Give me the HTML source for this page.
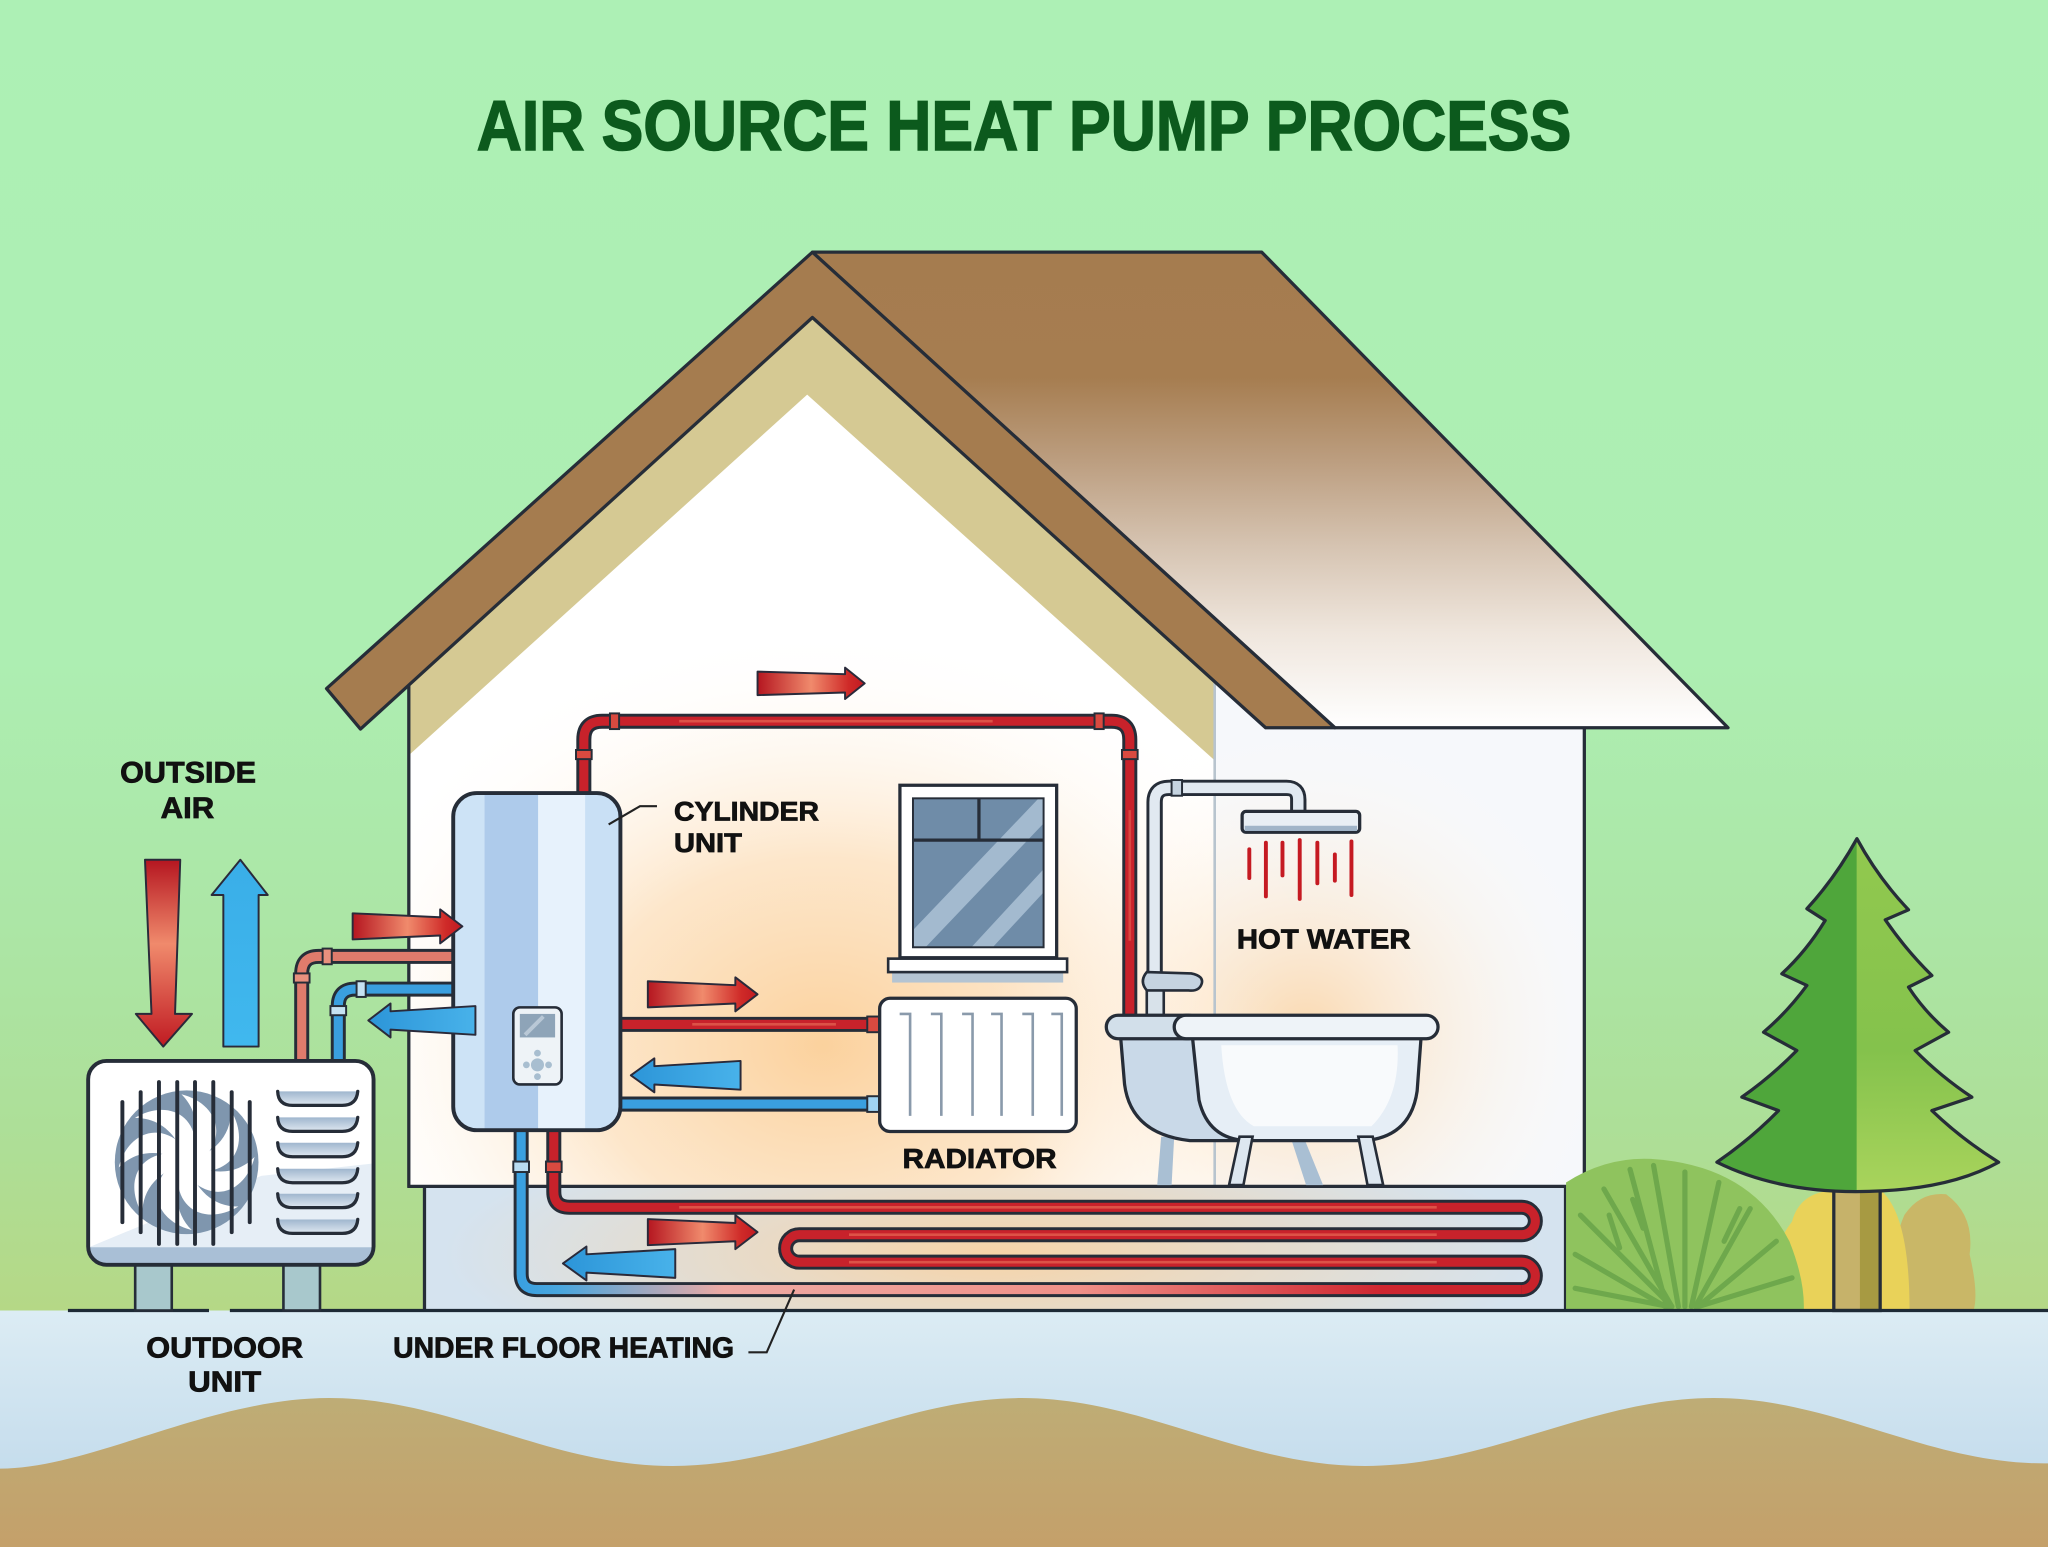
<!DOCTYPE html>
<html><head><meta charset="utf-8"><style>html,body{margin:0;padding:0;background:#adf0b5;overflow:hidden}svg{display:block}text{font-family:"Liberation Sans",Arial,sans-serif;font-weight:bold}</style></head>
<body>
<svg xmlns="http://www.w3.org/2000/svg" width="2048" height="1547" viewBox="0 0 1568 1184" preserveAspectRatio="none">
<defs>
<linearGradient id="bg" gradientUnits="userSpaceOnUse" x1="0" y1="0" x2="0" y2="1003"><stop offset="0" stop-color="#adf0b5"/><stop offset="0.5" stop-color="#adeeb2"/><stop offset="0.7" stop-color="#ace6a6"/><stop offset="0.86" stop-color="#addf98"/><stop offset="1" stop-color="#b5d886"/></linearGradient>
<linearGradient id="gb" gradientUnits="userSpaceOnUse" x1="0" y1="1003" x2="0" y2="1130"><stop offset="0" stop-color="#dcecf4"/><stop offset="1" stop-color="#c4dcec"/></linearGradient>
<linearGradient id="soil" gradientUnits="userSpaceOnUse" x1="0" y1="1068" x2="0" y2="1184"><stop offset="0" stop-color="#bead76"/><stop offset="1" stop-color="#c4a06a"/></linearGradient>
<linearGradient id="roofR" gradientUnits="userSpaceOnUse" x1="0" y1="193" x2="0" y2="557"><stop offset="0" stop-color="#a57c4f"/><stop offset="0.264" stop-color="#a67d50"/><stop offset="0.44" stop-color="#bc9e80"/><stop offset="0.62" stop-color="#d6c4b2"/><stop offset="0.8" stop-color="#efe6dd"/><stop offset="1" stop-color="#ffffff"/></linearGradient>
<radialGradient id="glowA" gradientUnits="userSpaceOnUse" cx="630" cy="800" r="400" gradientTransform="translate(0,160) scale(1,0.8)"><stop offset="0" stop-color="#fbcf98" stop-opacity="0.95"/><stop offset="0.45" stop-color="#fcdcb4" stop-opacity="0.7"/><stop offset="1" stop-color="#ffffff" stop-opacity="0"/></radialGradient>
<radialGradient id="glowB" gradientUnits="userSpaceOnUse" cx="1000" cy="790" r="240"><stop offset="0" stop-color="#fbd3a2" stop-opacity="0.85"/><stop offset="1" stop-color="#ffffff" stop-opacity="0"/></radialGradient>
<radialGradient id="glowF" gradientUnits="userSpaceOnUse" cx="760" cy="960" r="420" gradientTransform="translate(0,720) scale(1,0.25)"><stop offset="0" stop-color="#f9d3a4" stop-opacity="0.95"/><stop offset="1" stop-color="#f9d3a4" stop-opacity="0"/></radialGradient>
<linearGradient id="redH" x1="0" y1="0" x2="1" y2="0"><stop offset="0" stop-color="#b51620"/><stop offset="0.5" stop-color="#f08a6c"/><stop offset="0.85" stop-color="#cf2a28"/><stop offset="1" stop-color="#c01a22"/></linearGradient>
<linearGradient id="redV" x1="0" y1="0" x2="0" y2="1"><stop offset="0" stop-color="#b51620"/><stop offset="0.45" stop-color="#f08a6c"/><stop offset="1" stop-color="#c01a22"/></linearGradient>
<linearGradient id="blueH" x1="0" y1="0" x2="1" y2="0"><stop offset="0" stop-color="#2c95d8"/><stop offset="1" stop-color="#48b2ea"/></linearGradient>
<linearGradient id="blueV" x1="0" y1="0" x2="0" y2="1"><stop offset="0" stop-color="#3aaee8"/><stop offset="1" stop-color="#40b8ee"/></linearGradient>
<linearGradient id="uf" gradientUnits="userSpaceOnUse" x1="399" y1="0" x2="1175" y2="0"><stop offset="0" stop-color="#3aa0e0"/><stop offset="0.04" stop-color="#4aa6de"/><stop offset="0.2" stop-color="#eeaaa4"/><stop offset="0.55" stop-color="#f09088"/><stop offset="0.85" stop-color="#cf2630"/><stop offset="1" stop-color="#c8222b"/></linearGradient>
<linearGradient id="treeR" x1="0" y1="0" x2="0" y2="1"><stop offset="0" stop-color="#92c94f"/><stop offset="0.6" stop-color="#84c24c"/><stop offset="1" stop-color="#a9d45c"/></linearGradient>
<linearGradient id="louv" x1="0" y1="0" x2="0" y2="1"><stop offset="0" stop-color="#9fb6ce"/><stop offset="1" stop-color="#dfe8f1"/></linearGradient>
<clipPath id="wallClip"><polygon points="313,524 622,243 930,522 930,520 1213,520 1213,908 313,908"/></clipPath>
<clipPath id="cylClip"><rect x="347" y="607" width="128" height="258" rx="18"/></clipPath>
<clipPath id="glassClip"><rect x="699" y="611" width="100" height="114"/></clipPath>
<clipPath id="ouClip"><rect x="67.5" y="812" width="218.5" height="156" rx="14"/></clipPath>
<clipPath id="treeRClip"><rect x="1421.5" y="600" width="150" height="330"/></clipPath>
</defs>

<!-- background -->
<rect x="0" y="0" width="1568" height="1003" fill="url(#bg)"/>
<rect x="0" y="1003" width="1568" height="181" fill="url(#gb)"/>
<path d="M0,1124 C70,1124 160,1070 252,1070 C345,1070 420,1122 515,1122 C610,1122 690,1070 782,1070 C875,1070 950,1122 1045,1122 C1140,1122 1220,1070 1312,1070 C1405,1070 1475,1121 1568,1120 L1568,1184 L0,1184 Z" fill="url(#soil)"/>

<!-- walls -->
<rect x="930" y="520" width="283" height="388" fill="#f6f8fb"/>
<polygon points="313,524 622,243 930,522 930,908 313,908" fill="#ffffff"/>
<g clip-path="url(#wallClip)">
<rect x="313" y="240" width="900" height="668" fill="url(#glowA)"/>
<rect x="313" y="240" width="900" height="668" fill="url(#glowB)"/>
</g>
<polygon points="622,243 313,524 313,578 618,302 930,582 930,522" fill="#d5c993"/>
<line x1="930" y1="522" x2="930" y2="908" stroke="#b8c4ce" stroke-width="2"/>

<!-- roof -->
<polygon points="622,193 966,193 1323,557 1022,557" fill="url(#roofR)" stroke="#262d38" stroke-width="2.5" stroke-linejoin="round"/>
<polygon points="622,193 1022,557 969,557 622,243 276,558 250,527" fill="#a57c4f" stroke="#262d38" stroke-width="2.5" stroke-linejoin="round"/>

<!-- wall outlines -->
<line x1="313" y1="524" x2="313" y2="909" stroke="#262d38" stroke-width="2.5"/>
<line x1="1213" y1="557" x2="1213" y2="909" stroke="#262d38" stroke-width="2.5"/>

<!-- foundation -->
<rect x="325" y="908" width="873.6" height="95" fill="#d5e3ef"/>
<rect x="325" y="908" width="873.6" height="95" fill="url(#glowF)"/>
<line x1="325" y1="908" x2="325" y2="1003" stroke="#262d38" stroke-width="2.5"/>
<line x1="1198.6" y1="908" x2="1198.6" y2="1003" stroke="#262d38" stroke-width="2.5"/>
<line x1="312" y1="908" x2="1214" y2="908" stroke="#262d38" stroke-width="2.5"/>

<!-- bushes -->
<path d="M1452,1003 Q1445,960 1458,930 Q1470,912 1490,914 Q1512,930 1508,960 Q1515,990 1511,1003 Z" fill="#c9b767"/>
<path d="M1358,1003 Q1352,960 1372,935 Q1378,912 1405,911 L1440,911 Q1462,930 1462,1003 Z" fill="#e9d259"/>
<path d="M1199,1003 L1199,905 Q1230,885 1265,887 Q1340,892 1370,950 Q1382,980 1381,1003 Z" fill="#8fc35e"/>
<g stroke="#66a248" stroke-width="4" stroke-linecap="round" opacity="0.8" fill="none">
<path d="M1280,1000 L1210,930"/><path d="M1280,1000 L1228,910"/><path d="M1276,1000 L1248,895"/><path d="M1285,1000 L1266,892"/><path d="M1290,1000 L1290,897"/><path d="M1295,1000 L1316,905"/><path d="M1298,1000 L1340,925"/><path d="M1300,1000 L1360,950"/><path d="M1300,1000 L1372,978"/><path d="M1275,1000 L1206,960"/><path d="M1278,1000 L1206,986"/>
<path d="M1240,955 L1232,930"/><path d="M1320,950 L1332,925"/><path d="M1258,940 L1250,918"/>
</g>

<!-- tree -->
<rect x="1404" y="908" width="35.5" height="95" fill="#c6b26a"/>
<rect x="1424" y="908" width="15.5" height="95" fill="#a79a42"/>
<rect x="1404" y="908" width="35.5" height="95" fill="none" stroke="#262d38" stroke-width="2.5"/>
<path d="M1421.7,641.9 Q1405,672 1383.4,695.5 L1397.4,704.5 Q1383,728 1364.2,745.3 L1383.4,754.2 Q1368,775 1350.2,790 L1375.7,804 Q1356,824 1333.6,839.7 L1361.7,850 Q1340,872 1314.5,889.5 Q1360,912 1421,912 Q1490,912 1530.2,889.5 Q1502,872 1479.1,850 L1509.7,839.7 Q1486,824 1466.3,804 L1491.9,790 Q1474,775 1461.2,755.5 L1479.1,746.6 Q1460,728 1443.4,704 L1461.2,696.3 Q1438,672 1421.7,641.9 Z" fill="#4fa63b"/>
<path clip-path="url(#treeRClip)" d="M1421.7,641.9 Q1405,672 1383.4,695.5 L1397.4,704.5 Q1383,728 1364.2,745.3 L1383.4,754.2 Q1368,775 1350.2,790 L1375.7,804 Q1356,824 1333.6,839.7 L1361.7,850 Q1340,872 1314.5,889.5 Q1360,912 1421,912 Q1490,912 1530.2,889.5 Q1502,872 1479.1,850 L1509.7,839.7 Q1486,824 1466.3,804 L1491.9,790 Q1474,775 1461.2,755.5 L1479.1,746.6 Q1460,728 1443.4,704 L1461.2,696.3 Q1438,672 1421.7,641.9 Z" fill="url(#treeR)"/>
<path d="M1421.7,641.9 Q1405,672 1383.4,695.5 L1397.4,704.5 Q1383,728 1364.2,745.3 L1383.4,754.2 Q1368,775 1350.2,790 L1375.7,804 Q1356,824 1333.6,839.7 L1361.7,850 Q1340,872 1314.5,889.5 Q1360,912 1421,912 Q1490,912 1530.2,889.5 Q1502,872 1479.1,850 L1509.7,839.7 Q1486,824 1466.3,804 L1491.9,790 Q1474,775 1461.2,755.5 L1479.1,746.6 Q1460,728 1443.4,704 L1461.2,696.3 Q1438,672 1421.7,641.9 Z" fill="none" stroke="#262d38" stroke-width="2.5" stroke-linejoin="round"/>

<!-- ground line -->
<path d="M52,1003 L160,1003 M176,1003 L1568,1003" stroke="#1e2a36" stroke-width="2.5"/>

<!-- window -->
<rect x="689" y="601" width="120" height="132" fill="#ffffff" stroke="#262d38" stroke-width="2.5"/>
<rect x="699" y="611" width="100" height="114" fill="#6f8ca8"/>
<g clip-path="url(#glassClip)">
<line x1="688" y1="735" x2="812" y2="605" stroke="#a3bacf" stroke-width="16"/>
<line x1="738" y1="740" x2="812" y2="660" stroke="#a3bacf" stroke-width="12"/>
</g>
<rect x="699" y="611" width="100" height="114" fill="none" stroke="#262d38" stroke-width="1.5"/>
<line x1="749.5" y1="611" x2="749.5" y2="643" stroke="#262d38" stroke-width="2.5"/>
<line x1="699" y1="643" x2="799" y2="643" stroke="#262d38" stroke-width="2.5"/>
<rect x="683" y="744" width="131" height="8" fill="#b4c4d2"/>
<rect x="680" y="733.7" width="137" height="10.3" fill="#ffffff" stroke="#262d38" stroke-width="2"/>

<!-- underfloor pipes -->
<path d="M424,865 L424,912 Q424,924 436,924 L1165,924 A10.5,10.5 0 0 1 1165,945 L612,945 A10.5,10.5 0 0 0 612,966 L1165,966 A10.5,10.5 0 0 1 1165,987 L411,987 Q399,987 399,975 L399,865" fill="none" stroke="#262d38" stroke-width="11.5" stroke-linejoin="round"/>
<path d="M424,865 L424,912 Q424,924 436,924 L1165,924 A10.5,10.5 0 0 1 1165,945 L612,945 A10.5,10.5 0 0 0 612,966 L1165,966 A10.5,10.5 0 0 1 1165,987" fill="none" stroke="#c8222b" stroke-width="7"/>
<path d="M1165,987 L411,987 Q399,987 399,975 L399,865" fill="none" stroke="url(#uf)" stroke-width="7"/>
<path d="M520,924 L1100,924 M650,945 L1100,945 M650,966 L1100,966" fill="none" stroke="#ee7a5e" stroke-width="2" opacity="0.55"/>
<rect x="393" y="889" width="12" height="8" fill="#b8dcf2" stroke="#262d38" stroke-width="1.5"/>
<rect x="418" y="889" width="12" height="8" fill="#d94a40" stroke="#262d38" stroke-width="1.5"/>

<!-- top red loop -->
<path d="M447,607 L447,566 Q447,552 461,552 L851,552 Q865,552 865,566 L865,778" fill="none" stroke="#262d38" stroke-width="11.5" stroke-linejoin="round"/>
<path d="M447,607 L447,566 Q447,552 461,552 L851,552 Q865,552 865,566 L865,778" fill="none" stroke="#c8222b" stroke-width="7"/>
<path d="M520,552 L760,552" stroke="#ee7a5e" stroke-width="2" opacity="0.55"/>
<path d="M865,620 L865,720" stroke="#ee7a5e" stroke-width="2" opacity="0.45"/>
<rect x="441" y="574" width="12" height="7" fill="#d94a40" stroke="#262d38" stroke-width="1.5"/>
<rect x="467" y="546" width="7" height="12" fill="#d94a40" stroke="#262d38" stroke-width="1.5"/>
<rect x="838" y="546" width="7" height="12" fill="#d94a40" stroke="#262d38" stroke-width="1.5"/>
<rect x="859" y="574" width="12" height="7" fill="#d94a40" stroke="#262d38" stroke-width="1.5"/>

<!-- radiator pipes -->
<path d="M470,784 L673,784" stroke="#262d38" stroke-width="11.5"/>
<path d="M470,784 L673,784" stroke="#c8222b" stroke-width="7"/>
<path d="M530,784 L640,784" stroke="#ee7a5e" stroke-width="2" opacity="0.55"/>
<path d="M470,845 L673,845" stroke="#262d38" stroke-width="11.5"/>
<path d="M470,845 L673,845" stroke="#3a9fdf" stroke-width="7"/>
<rect x="664" y="778" width="9" height="12" fill="#d94a40" stroke="#262d38" stroke-width="1.5"/>
<rect x="664" y="839" width="9" height="12" fill="#9fd2f2" stroke="#262d38" stroke-width="1.5"/>

<!-- radiator -->
<rect x="673.5" y="764" width="150.5" height="102" rx="8" fill="#ffffff" stroke="#262d38" stroke-width="2.5"/>
<g stroke="#8a9aab" stroke-width="2" fill="none">
<path d="M688.8,776 L696.8,776 L696.8,854"/><path d="M712.7,776 L720.7,776 L720.7,854"/><path d="M736.6,776 L744.6,776 L744.6,854"/><path d="M758.8,776 L766.8,776 L766.8,854"/><path d="M782.7,776 L790.7,776 L790.7,854"/><path d="M804.9,776 L812.9,776 L812.9,854"/>
</g>

<!-- outdoor pipes -->
<path d="M231,815 L231,745 Q231,732 244,732 L350,732" fill="none" stroke="#262d38" stroke-width="11.5"/>
<path d="M231,815 L231,745 Q231,732 244,732 L350,732" fill="none" stroke="#df7b6c" stroke-width="7"/>
<path d="M259,815 L259,770 Q259,757 272,757 L350,757" fill="none" stroke="#262d38" stroke-width="11.5"/>
<path d="M259,815 L259,770 Q259,757 272,757 L350,757" fill="none" stroke="#3a9fdf" stroke-width="7"/>
<rect x="225" y="745" width="12" height="7" fill="#e8907e" stroke="#262d38" stroke-width="1.5"/>
<rect x="247" y="726" width="7" height="12" fill="#e8907e" stroke="#262d38" stroke-width="1.5"/>
<rect x="253" y="770" width="12" height="7" fill="#c5e2f2" stroke="#262d38" stroke-width="1.5"/>
<rect x="273" y="751" width="7" height="12" fill="#c5e2f2" stroke="#262d38" stroke-width="1.5"/>

<!-- cylinder -->
<rect x="347" y="607" width="128" height="258" rx="18" fill="#c9e0f5"/>
<g clip-path="url(#cylClip)">
<rect x="347" y="607" width="24" height="258" fill="#cde3f6"/>
<rect x="371" y="607" width="41" height="258" fill="#aecbeb"/>
<rect x="412" y="607" width="36" height="258" fill="#e7f2fc"/>
</g>
<rect x="347" y="607" width="128" height="258" rx="18" fill="none" stroke="#262d38" stroke-width="3"/>
<rect x="393" y="771" width="37" height="59" rx="5" fill="#eef3f7" stroke="#262d38" stroke-width="2"/>
<rect x="398" y="776" width="27" height="18" fill="#8ea4b8"/>
<line x1="402" y1="792" x2="416" y2="778" stroke="#b9c8d6" stroke-width="3"/>
<circle cx="411.5" cy="815" r="5" fill="#a8bed0"/>
<circle cx="403" cy="815" r="2.6" fill="#a8bed0"/>
<circle cx="420" cy="815" r="2.6" fill="#a8bed0"/>
<circle cx="411.5" cy="806" r="2.6" fill="#a8bed0"/>
<circle cx="411.5" cy="824" r="2.6" fill="#a8bed0"/>
<polyline points="503,617 490,617 466,631" fill="none" stroke="#222" stroke-width="1.6"/>

<!-- shower -->
<path d="M884,778 L884,614 Q884,603 895,603 L985,603 Q994,603 994,612 L994,622" fill="none" stroke="#262d38" stroke-width="12.5" stroke-linejoin="round"/>
<path d="M884,778 L884,614 Q884,603 895,603 L985,603 Q994,603 994,612 L994,622" fill="none" stroke="#e1e9f1" stroke-width="8"/>
<rect x="897" y="597" width="8" height="12" fill="#c5d3e0" stroke="#262d38" stroke-width="1.5"/>
<rect x="951" y="621" width="90" height="16" rx="3" fill="#e8eef4" stroke="#262d38" stroke-width="2.5"/>
<rect x="953" y="632" width="86" height="4" fill="#a0b4c8"/>
<g stroke="#c51a22" stroke-width="3" stroke-linecap="round">
<line x1="956.5" y1="650" x2="956.5" y2="672"/><line x1="969.2" y1="645" x2="969.2" y2="686"/><line x1="981.9" y1="645" x2="981.9" y2="670"/><line x1="995.1" y1="643" x2="995.1" y2="688"/><line x1="1008.6" y1="645" x2="1008.6" y2="676"/><line x1="1022" y1="654" x2="1022" y2="674"/><line x1="1034.7" y1="644" x2="1034.7" y2="685"/>
</g>
<rect x="878" y="757" width="13" height="20" fill="#d8e2ea" stroke="#262d38" stroke-width="2"/>
<path d="M878,744 L912,745 Q922,747 920,753 Q918,759 910,758 L878,758 Q872,751 878,744 Z" fill="#c5d3e0" stroke="#262d38" stroke-width="2"/>

<!-- bath -->
<polygon points="889,870 899,870 897,907 886,907" fill="#a9bfd3"/>
<polygon points="988,870 998,870 1013,907 1000,907" fill="#a9bfd3"/>
<path d="M858,794 L861,830 Q866,868 911,873 L950,873 L950,794 Z" fill="#c9d9e8" stroke="#262d38" stroke-width="2.5" stroke-linejoin="round"/>
<path d="M913,794 L918,842 Q925,872 955,873 L1045,873 Q1080,870 1085,835 L1088,794 Z" fill="#e6eef6" stroke="#262d38" stroke-width="2.5" stroke-linejoin="round"/>
<path d="M935,800 L1070,800 Q1072,840 1050,862 L960,862 Q938,850 935,800 Z" fill="#ffffff" opacity="0.7"/>
<polygon points="949,870 959,870 952,907 941,907" fill="#dde7f0" stroke="#262d38" stroke-width="2"/>
<polygon points="1040,870 1051,870 1059,907 1047,907" fill="#dde7f0" stroke="#262d38" stroke-width="2"/>
<rect x="847" y="777" width="72" height="18" rx="9" fill="#d2dfea" stroke="#262d38" stroke-width="2.5"/>
<rect x="899" y="777" width="202" height="18" rx="9" fill="#eef3f8" stroke="#262d38" stroke-width="2.5"/>

<!-- outdoor unit -->
<rect x="103.5" y="966" width="28" height="37" fill="#a8c8cc" stroke="#262d38" stroke-width="2"/>
<rect x="217" y="966" width="28" height="37" fill="#a8c8cc" stroke="#262d38" stroke-width="2"/>
<rect x="67.5" y="812" width="218.5" height="156" rx="14" fill="#ffffff"/>
<g clip-path="url(#ouClip)">
<polygon points="67,955 200,900 290,890 290,955" fill="#e6eef6"/>
<rect x="67" y="954.6" width="220" height="14" fill="#a9bfd6"/>
</g>
<rect x="67.5" y="812" width="218.5" height="156" rx="14" fill="none" stroke="#262d38" stroke-width="3"/>
<circle cx="142.9" cy="889.5" r="55" fill="#7f96ae"/>
<g transform="translate(142.9,889.5)" fill="#ffffff">
<path d="M0,0 C10,-20 10,-38 -4,-52 C20,-46 32,-24 14,-4 Z"/>
<path d="M0,0 C10,-20 10,-38 -4,-52 C20,-46 32,-24 14,-4 Z" transform="rotate(45)"/>
<path d="M0,0 C10,-20 10,-38 -4,-52 C20,-46 32,-24 14,-4 Z" transform="rotate(90)"/>
<path d="M0,0 C10,-20 10,-38 -4,-52 C20,-46 32,-24 14,-4 Z" transform="rotate(135)"/>
<path d="M0,0 C10,-20 10,-38 -4,-52 C20,-46 32,-24 14,-4 Z" transform="rotate(180)"/>
<path d="M0,0 C10,-20 10,-38 -4,-52 C20,-46 32,-24 14,-4 Z" transform="rotate(225)"/>
<path d="M0,0 C10,-20 10,-38 -4,-52 C20,-46 32,-24 14,-4 Z" transform="rotate(270)"/>
<path d="M0,0 C10,-20 10,-38 -4,-52 C20,-46 32,-24 14,-4 Z" transform="rotate(315)"/>
<circle cx="0" cy="0" r="10"/>
</g>
<g stroke="#262d38" stroke-width="3" stroke-linecap="round">
<line x1="93.7" y1="843.5" x2="93.7" y2="935.4"/><line x1="107.7" y1="835.9" x2="107.7" y2="943"/><line x1="121.7" y1="828.2" x2="121.7" y2="952"/><line x1="135.7" y1="828.2" x2="135.7" y2="952"/><line x1="149.3" y1="828.2" x2="149.3" y2="952"/><line x1="163.3" y1="828.2" x2="163.3" y2="952"/><line x1="177.4" y1="835.9" x2="177.4" y2="943"/><line x1="191.2" y1="843.5" x2="191.2" y2="935.4"/>
</g>
<g>
<path d="M212.6,835.3 L273.9,835.3 Q273,846 262,846 L224,846 Q213,846 212.6,835.3 Z" fill="url(#louv)"/>
<path d="M212.6,855.2 L273.9,855.2 Q273,865.9 262,865.9 L224,865.9 Q213,865.9 212.6,855.2 Z" fill="url(#louv)"/>
<path d="M212.6,874.6 L273.9,874.6 Q273,885.3 262,885.3 L224,885.3 Q213,885.3 212.6,874.6 Z" fill="url(#louv)"/>
<path d="M212.6,894.5 L273.9,894.5 Q273,905.2 262,905.2 L224,905.2 Q213,905.2 212.6,894.5 Z" fill="url(#louv)"/>
<path d="M212.6,913.6 L273.9,913.6 Q273,924.3 262,924.3 L224,924.3 Q213,924.3 212.6,913.6 Z" fill="url(#louv)"/>
<path d="M212.6,933.3 L273.9,933.3 Q273,944 262,944 L224,944 Q213,944 212.6,933.3 Z" fill="url(#louv)"/>
</g>
<g fill="none" stroke="#262d38" stroke-width="2.5" stroke-linecap="round">
<path d="M212.6,835.3 Q213,846 224,846 L262,846 Q273,846 273.9,835.3"/>
<path d="M212.6,855.2 Q213,865.9 224,865.9 L262,865.9 Q273,865.9 273.9,855.2"/>
<path d="M212.6,874.6 Q213,885.3 224,885.3 L262,885.3 Q273,885.3 273.9,874.6"/>
<path d="M212.6,894.5 Q213,905.2 224,905.2 L262,905.2 Q273,905.2 273.9,894.5"/>
<path d="M212.6,913.6 Q213,924.3 224,924.3 L262,924.3 Q273,924.3 273.9,913.6"/>
<path d="M212.6,933.3 Q213,944 224,944 L262,944 Q273,944 273.9,933.3"/>
</g>

<!-- arrows -->
<g stroke="#2a2a3a" stroke-width="1.5" stroke-linejoin="round">
<polygon points="580,514 647,516 647,511 662,523 647,535 647,530 580,532" fill="url(#redH)"/>
<polygon points="270,699 337,702 337,696 354,709 337,722 337,716 270,719" fill="url(#redH)"/>
<polygon points="496,751 563,754 563,748 580,761 563,774 563,768 496,771" fill="url(#redH)"/>
<polygon points="496,933 563,936 563,930 580,943 563,956 563,950 496,953" fill="url(#redH)"/>
<polygon points="364,770 299,774 299,768 282,781 299,794 299,788 364,792" fill="url(#blueH)"/>
<polygon points="567,812 501,816 501,810 483,823 501,836 501,830 567,834" fill="url(#blueH)"/>
<polygon points="517,956 449,960 449,954 431,967 449,980 449,974 517,978" fill="url(#blueH)"/>
<polygon points="111,658 138,658 134,776 147,776 125,801 104,776 116,776" fill="url(#redV)"/>
<polygon points="184,658 205,685 198,685 198,801 171,801 171,685 162,685" fill="url(#blueV)"/>
</g>

<!-- leader -->
<polyline points="573,1035 587,1035 608,987" fill="none" stroke="#222" stroke-width="1.6"/>

<!-- labels -->
<text x="365" y="115" font-size="54" fill="#0c5a1d" stroke="#0c5a1d" stroke-width="1.2" textLength="838" lengthAdjust="spacingAndGlyphs">AIR SOURCE HEAT PUMP PROCESS</text>
<g fill="#111" stroke="#111" stroke-width="0.6">
<text x="92" y="599" font-size="22.5" textLength="104" lengthAdjust="spacingAndGlyphs">OUTSIDE</text>
<text x="123" y="626" font-size="22.5" textLength="41" lengthAdjust="spacingAndGlyphs">AIR</text>
<text x="516" y="628" font-size="20.5" textLength="111" lengthAdjust="spacingAndGlyphs">CYLINDER</text>
<text x="516" y="652" font-size="20.5" textLength="52" lengthAdjust="spacingAndGlyphs">UNIT</text>
<text x="691" y="894" font-size="21.5" textLength="118" lengthAdjust="spacingAndGlyphs">RADIATOR</text>
<text x="947" y="726" font-size="21.5" textLength="133" lengthAdjust="spacingAndGlyphs">HOT WATER</text>
<text x="112" y="1039" font-size="22" textLength="120" lengthAdjust="spacingAndGlyphs">OUTDOOR</text>
<text x="144" y="1065" font-size="22" textLength="56" lengthAdjust="spacingAndGlyphs">UNIT</text>
<text x="301" y="1039" font-size="22" textLength="261" lengthAdjust="spacingAndGlyphs">UNDER FLOOR HEATING</text>
</g>
</svg>
</body></html>
